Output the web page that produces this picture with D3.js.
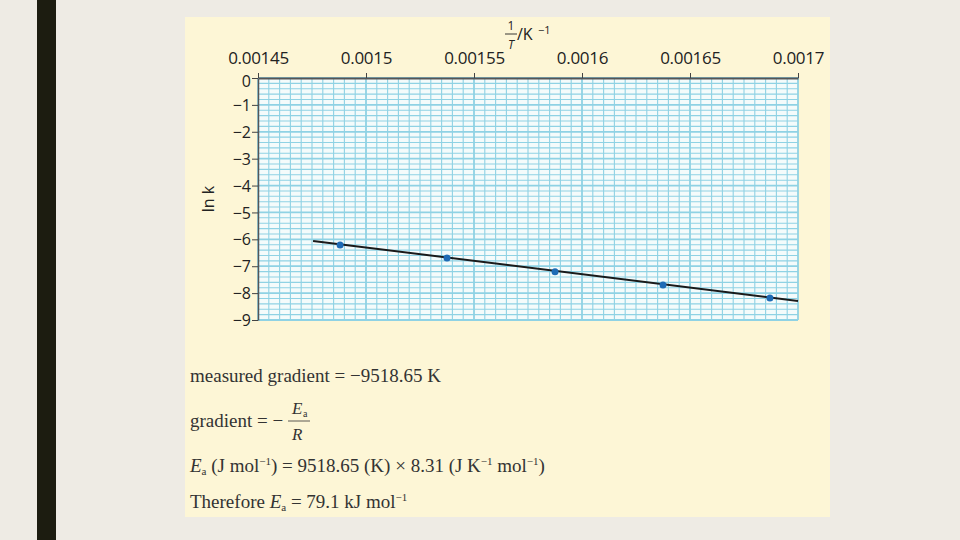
<!DOCTYPE html>
<html><head><meta charset="utf-8">
<script src="https://cdn.jsdelivr.net/npm/d3@7"></script>
<style>body{margin:0;background:#eeebe4;} svg{display:block;}</style>
</head><body>
<svg id="c" width="960" height="540"></svg>
<script>
const xTicks = [0.00145, 0.0015, 0.00155, 0.0016, 0.00165, 0.0017];
const xTickLabels = ["0.00145", "0.0015", "0.00155", "0.0016", "0.00165", "0.0017"];
const yTicks = [0, -1, -2, -3, -4, -5, -6, -7, -8, -9];
const invT = [0.001488, 0.0015375, 0.0015875, 0.0016375, 0.001687];
const lnk = [-6.21, -6.69, -7.21, -7.70, -8.18];
const fitX = [0.0014755, 0.0017];
const fitY = [-6.06, -8.29];

const svg = d3.select("#c");
svg.append("rect").attr("x",0).attr("y",0).attr("width",960).attr("height",540).attr("fill","#eeebe4");
svg.append("rect").attr("x",37).attr("y",0).attr("width",19).attr("height",540).attr("fill","#1c1c10");
svg.append("rect").attr("x",185).attr("y",17).attr("width",645).attr("height",500).attr("fill","#fdf6d6");

const x = d3.scaleLinear().domain([0.00145, 0.0017]).range([258, 798]);
const y = d3.scaleLinear().domain([0, -9]).range([78, 320]);

// plot area
svg.append("rect").attr("x",258).attr("y",78).attr("width",540).attr("height",242).attr("fill","#f4fbfb");
const g = svg.append("g");
const xMinor = d3.range(0, 51).map(i => 0.00145 + i*0.000005);
const yMinor = d3.range(0, 46).map(i => -i*0.2);
g.selectAll(".vx").data(xMinor).join("line")
  .attr("x1", d=>x(d)).attr("x2", d=>x(d)).attr("y1", y(0)).attr("y2", y(-9))
  .attr("stroke", "#8fd2e4").attr("stroke-width", (d,i)=> i%10===0 ? 1.8 : 1.1);
g.selectAll(".hy").data(yMinor).join("line")
  .attr("y1", d=>y(d)).attr("y2", d=>y(d)).attr("x1", x(0.00145)).attr("x2", x(0.0017))
  .attr("stroke", "#8fd2e4").attr("stroke-width", (d,i)=> i%5===0 ? 1.8 : 1.1);

const sans = "'Open Sans', sans-serif";
// axes
const xAxis = d3.axisTop(x).tickValues(xTicks).tickFormat((d,i)=>xTickLabels[i]).tickSize(5).tickSizeOuter(0);
const xa = svg.append("g").attr("transform","translate(0,78)").call(xAxis);
xa.select(".domain").attr("stroke","#555").attr("stroke-width",2);
xa.selectAll(".tick line").attr("stroke","#444");
xa.selectAll("text").attr("font-family",sans).attr("font-size",17).attr("fill","#222")
  .attr("letter-spacing","-0.3").attr("y",-14).attr("dy","0");

const yAxis = d3.axisLeft(y).tickValues(yTicks).tickFormat(d => d===0 ? "0" : "\u2212"+(-d)).tickSize(6).tickSizeOuter(0);
const ya = svg.append("g").attr("transform","translate(258,0)").call(yAxis);
ya.select(".domain").attr("stroke","#555").attr("stroke-width",1.5);
ya.selectAll(".tick line").attr("stroke","#444");
ya.selectAll("text").attr("font-family",sans).attr("font-size",16).attr("fill","#222").attr("x",-7)
  .attr("dy", d => d===0 ? "0.55em" : "0.35em");

// y label
svg.append("text").attr("transform","translate(214,199) rotate(-90)").attr("text-anchor","middle")
  .attr("font-family",sans).attr("font-size",16).attr("fill","#222").text("ln k");

// x title: 1/T /K^-1
const tt = svg.append("g").attr("font-family",sans).attr("fill","#222");
tt.append("text").attr("x",511).attr("y",30).attr("text-anchor","middle").attr("font-size",12).text("1");
tt.append("line").attr("x1",505).attr("x2",517).attr("y1",34).attr("y2",34).attr("stroke","#222").attr("stroke-width",0.9);
tt.append("text").attr("x",511).attr("y",49).attr("text-anchor","middle").attr("font-size",12).attr("font-style","italic").text("T");
tt.append("text").attr("x",517).attr("y",40).attr("font-size",16).text("/K");
tt.append("text").attr("x",538).attr("y",34).attr("font-size",11).text("\u22121");

// fit line
svg.append("path").datum(fitX.map((d,i)=>[d, fitY[i]]))
  .attr("d", d3.line().x(d=>x(d[0])).y(d=>y(d[1])))
  .attr("stroke","#1a1a1a").attr("stroke-width",2).attr("fill","none");
// points
svg.selectAll(".pt").data(invT).join("circle")
  .attr("cx", d=>x(d)).attr("cy", (d,i)=>y(lnk[i])).attr("r",3.5).attr("fill","#1f6bb5");

// text block
const tb = svg.append("g").attr("font-family","'Liberation Serif', serif").attr("font-size",19).attr("fill","#333");
tb.append("text").attr("x",190).attr("y",382).text("measured gradient = \u22129518.65 K");
tb.append("text").attr("x",190).attr("y",427).text("gradient = \u2212");
tb.append("text").attr("x",292).attr("y",414).attr("font-style","italic").attr("font-size",17).text("E");
tb.append("text").attr("x",303).attr("y",417).attr("font-size",10).text("a");
tb.append("line").attr("x1",288).attr("x2",310).attr("y1",421).attr("y2",421).attr("stroke","#333").attr("stroke-width",0.8);
tb.append("text").attr("x",292).attr("y",440).attr("font-style","italic").attr("font-size",17).text("R");

const l3 = tb.append("text").attr("x",190).attr("y",472);
l3.append("tspan").attr("font-style","italic").text("E");
l3.append("tspan").attr("font-size",11).attr("dy",3).text("a");
l3.append("tspan").attr("dy",-3).text(" (J mol");
l3.append("tspan").attr("font-size",11).attr("dy",-7).text("\u22121");
l3.append("tspan").attr("dy",7).text(") = 9518.65 (K) \u00d7 8.31 (J K");
l3.append("tspan").attr("font-size",11).attr("dy",-7).text("\u22121");
l3.append("tspan").attr("dy",7).text(" mol");
l3.append("tspan").attr("font-size",11).attr("dy",-7).text("\u22121");
l3.append("tspan").attr("dy",7).text(")");

const l4 = tb.append("text").attr("x",190).attr("y",508);
l4.append("tspan").text("Therefore ");
l4.append("tspan").attr("font-style","italic").text("E");
l4.append("tspan").attr("font-size",11).attr("dy",3).text("a");
l4.append("tspan").attr("dy",-3).text(" = 79.1 kJ mol");
l4.append("tspan").attr("font-size",11).attr("dy",-7).text("\u22121");
</script>
</body></html>
